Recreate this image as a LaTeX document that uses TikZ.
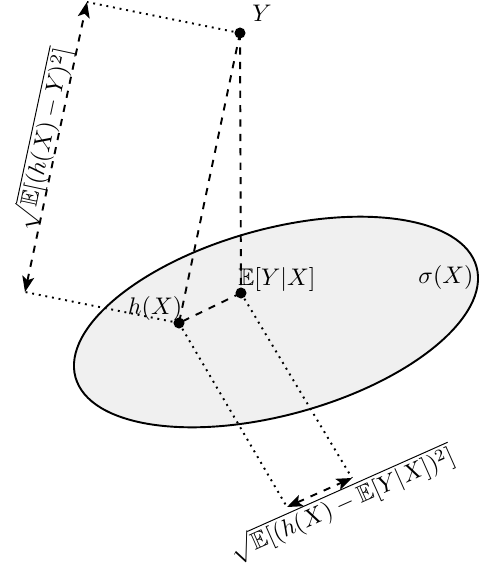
\documentclass[tikz,border=0pt]{standalone}
\usepackage{amssymb}
\usetikzlibrary{arrows.meta}
\begin{document}
\begin{tikzpicture}[x=0.41667pt,y=-0.41667pt,
  dot/.style={circle,fill=black,inner sep=0pt,minimum size=4.6pt},
  dashline/.style={thick,dashed},
  dotline/.style={thick,dotted},
  measure/.style={thick,dashed,{Stealth[length=6.5pt,width=5pt,inset=1.5pt]}-{Stealth[length=6.5pt,width=5pt,inset=1.5pt]}},
  region/.style={fill=gray!12,draw=black,thick}]
\useasboundingbox (0,0) rectangle (478,568);
\path[region,rotate around={15.4:(276,322)}] (276,322) ellipse [x radius=208, y radius=93];
\node[dot] (Y) at (240,33) {};
\node[dot] (E) at (241,293) {};
\node[dot] (h) at (179,323) {};
\coordinate (Ytop) at (87,2);
\coordinate (hleft) at (25,292);
\coordinate (hbot) at (287,507);
\coordinate (Ebot) at (352,478);
\draw[dashline] (Y.center) -- (h.center);
\draw[dashline] (Y.center) -- (E.center);
\draw[dashline] (E.center) -- (h.center);
\draw[dotline] (Y.center) -- (Ytop);
\draw[dotline] (h.center) -- (hleft);
\draw[dotline] (h.center) -- (hbot);
\draw[dotline] (E.center) -- (Ebot);
\draw[measure] (hleft) -- (Ytop);
\draw[measure] (hbot) -- (Ebot);
\node (lY) at (262,13) {$Y$};
\node (lh) at (155,308) {$h(X)$};
\node (lE) at (277,279) {$\mathbb{E}[Y|X]$};
\node (ls) at (446,277) {$\sigma(X)$};
\node[rotate=77.9] (l1) at (44,139) {$\sqrt{\mathbb{E}[(h(X)-Y)^2]}$};
\node[rotate=24] (l2) at (342,504) {$\sqrt{\mathbb{E}[(h(X)-\mathbb{E}[Y|X])^2]}$};
\end{tikzpicture}
\end{document}
